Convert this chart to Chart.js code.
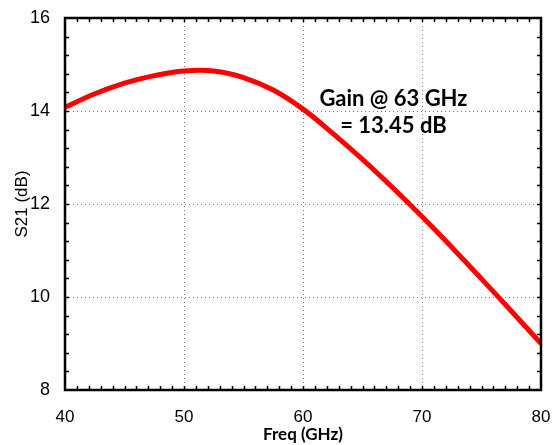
<!DOCTYPE html>
<html>
<head>
<meta charset="utf-8">
<title>S21 vs Freq</title>
<script src="https://cdn.jsdelivr.net/npm/chart.js@4/dist/chart.umd.min.js"></script>
<style>
    html, body { margin: 0; padding: 0; background: #ffffff; }
    #wrap { width: 554px; height: 445px; }
</style>
</head>
<body>
<div id="wrap"><canvas id="s21Chart" width="554" height="445"></canvas></div>
<script>
// Data
const freqGHz = [40, 42.5, 45, 47.5, 50, 52.5, 55, 57.5, 60, 62.5, 65, 67.5, 70, 72.5, 75, 77.5, 80];
const s21dB = [14.08, 14.37, 14.60, 14.76, 14.86, 14.86, 14.72, 14.45, 14.04, 13.52, 12.96, 12.36, 11.73, 11.07, 10.39, 9.70, 9.00];

const xTicks = [40, 50, 60, 70, 80];
const yTicks = [8, 10, 12, 14, 16];

// Annotation text and where it sits (data units)
const noteLines = ['Gain @ 63 GHz', '= 13.45 dB'];
const noteX = 67.6;
const noteY = [14.27, 13.67];

// Dotted grid at the labelled ticks, drawn under the curve
const gridPlugin = {
    id: 'dottedGrid',
    beforeDatasetsDraw(chart) {
        const { ctx, chartArea: a, scales } = chart;
        ctx.save();
        ctx.strokeStyle = '#777';
        ctx.lineWidth = 1;
        ctx.setLineDash([1, 3]);
        ctx.beginPath();
        xTicks.forEach(v => {
            const px = Math.round(scales.x.getPixelForValue(v)) + 0.5;
            ctx.moveTo(px, a.top); ctx.lineTo(px, a.bottom);
        });
        yTicks.forEach(v => {
            const py = Math.round(scales.y.getPixelForValue(v)) + 0.5;
            ctx.moveTo(a.left, py); ctx.lineTo(a.right, py);
        });
        ctx.stroke();
        ctx.restore();
    }
};

// Box + minor ticks (inward, all four sides) + annotation
const framePlugin = {
    id: 'frame',
    afterDatasetsDraw(chart) {
        const { ctx, chartArea: a, scales } = chart;
        const xs = scales.x, ys = scales.y;
        ctx.save();
        ctx.strokeStyle = '#000';
        ctx.lineWidth = 1.5;
        ctx.beginPath();
        for (let f = 41; f < 80; f++) {
            const px = Math.round(xs.getPixelForValue(f)) + 0.5;
            ctx.moveTo(px, a.bottom); ctx.lineTo(px, a.bottom - 4);
            ctx.moveTo(px, a.top); ctx.lineTo(px, a.top + 4);
        }
        for (let i = 1; i < 20; i++) {
            const py = Math.round(ys.getPixelForValue(8 + i * 0.4)) + 0.5;
            ctx.moveTo(a.left, py); ctx.lineTo(a.left + 4, py);
            ctx.moveTo(a.right, py); ctx.lineTo(a.right - 4, py);
        }
        ctx.stroke();

        ctx.lineWidth = 2.5;
        ctx.strokeRect(a.left, a.top, a.right - a.left, a.bottom - a.top);

        ctx.fillStyle = '#000';
        ctx.font = 'bold 22px Lato';
        ctx.textAlign = 'center';
        ctx.textBaseline = 'middle';
        noteLines.forEach((t, i) => {
            ctx.fillText(t, xs.getPixelForValue(noteX), ys.getPixelForValue(noteY[i]));
        });
        ctx.restore();
    }
};

new Chart(document.getElementById('s21Chart'), {
    type: 'line',
    data: {
        datasets: [{
            data: freqGHz.map((f, i) => ({ x: f, y: s21dB[i] })),
            borderColor: '#ff0000',
            borderWidth: 5,
            pointRadius: 0,
            tension: 0.4,
            fill: false
        }]
    },
    options: {
        responsive: false,
        animation: false,
        layout: { padding: { top: 18, right: 13, left: 0, bottom: 0 } },
        plugins: { legend: { display: false }, tooltip: { enabled: false } },
        scales: {
            x: {
                type: 'linear',
                min: 40,
                max: 80,
                afterFit: s => { s.height = 55; s.paddingLeft = 0; s.paddingRight = 0; },
                afterBuildTicks: s => { s.ticks = xTicks.map(v => ({ value: v })); },
                grid: { display: false },
                border: { display: false },
                ticks: {
                    color: '#000',
                    padding: 9,
                    maxRotation: 0,
                    font: { family: 'Liberation Sans', size: 17 }
                },
                title: {
                    display: true,
                    text: 'Freq (GHz)',
                    color: '#000',
                    padding: { top: 0, bottom: 0 },
                    font: { family: 'Lato', weight: 'bold', size: 17 }
                }
            },
            y: {
                min: 8,
                max: 16,
                afterFit: s => { s.width = 65; },
                afterBuildTicks: s => { s.ticks = yTicks.map(v => ({ value: v })); },
                grid: { display: false },
                border: { display: false },
                ticks: {
                    color: '#000',
                    padding: 7,
                    font: { family: 'Liberation Sans', size: 18 }
                },
                title: {
                    display: true,
                    text: 'S21 (dB)',
                    color: '#000',
                    padding: { top: 12, bottom: 0 },
                    font: { family: 'Liberation Sans', size: 17 }
                }
            }
        }
    },
    plugins: [gridPlugin, framePlugin]
});
</script>
</body>
</html>
